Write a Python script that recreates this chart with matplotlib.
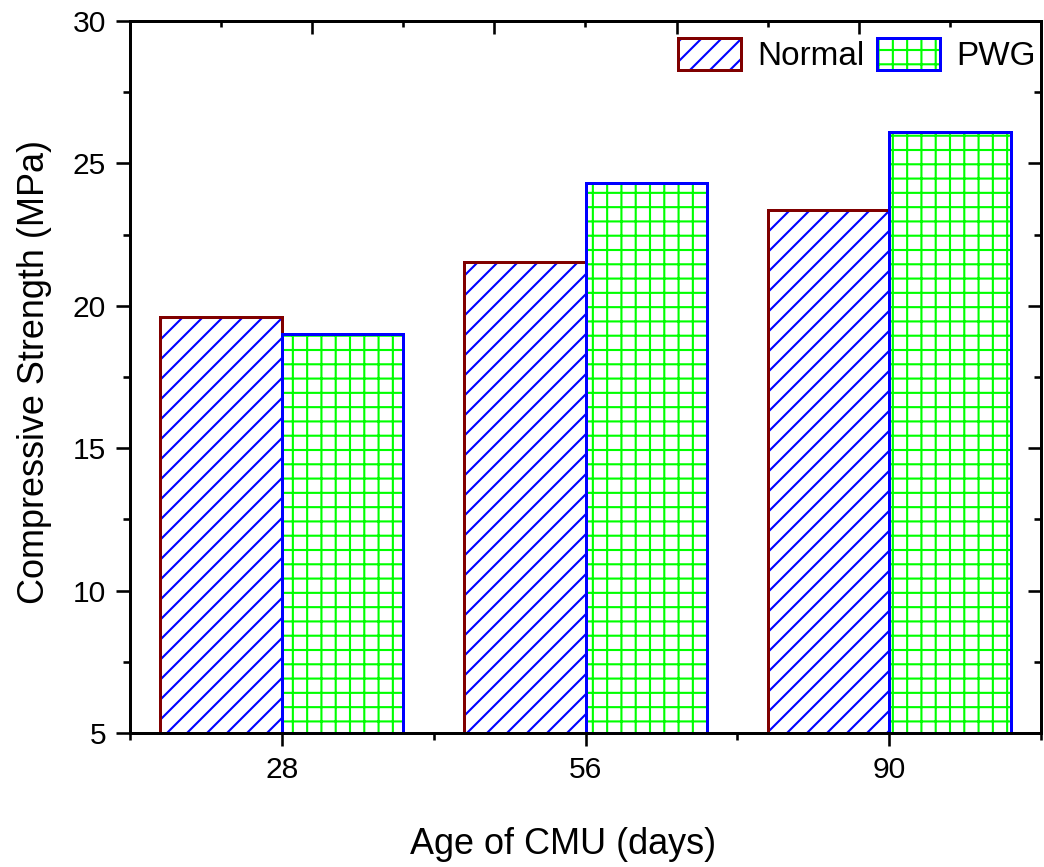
import matplotlib
matplotlib.use("Agg")
import matplotlib.pyplot as plt
import numpy as np
from matplotlib.patches import Patch
from matplotlib.legend_handler import HandlerTuple
from matplotlib.ticker import MultipleLocator, FixedLocator

categories = ["28", "56", "90"]
normal = [19.6, 21.55, 23.35]
pwg = [19.0, 24.3, 26.1]
series_names = ["Normal", "PWG"]

DPI = 600
W, H = 1044, 867


def P(px):
    """pixels -> points at the chosen dpi"""
    return px * 72.0 / DPI


plt.rcParams['font.family'] = ['Liberation Sans', 'DejaVu Sans']
plt.rcParams['hatch.linewidth'] = P(2.1)

fig = plt.figure(figsize=(W / DPI, H / DPI), dpi=DPI)
ax = fig.add_axes([130 / W, 1 - 733 / H, (1041 - 130) / W, (733 - 21) / H])

x = np.arange(len(categories))
bw = 0.4
base = 5
EDGE_LW = P(3.0)
SPINE_LW = P(2.6)
HATCH_N = '/' * 10   # ~20 px spacing
HATCH_P = '+' * 7    # ~14 px grid


def hatched_bars(xpos, vals, hatch, hcolor, ecolor):
    heights = np.array(vals) - base
    ax.bar(xpos, heights, bw, bottom=base, align='edge', facecolor='white',
           edgecolor=hcolor, hatch=hatch, linewidth=0, zorder=2)
    ax.bar(xpos, heights, bw, bottom=base, align='edge', facecolor='none',
           edgecolor=ecolor, linewidth=EDGE_LW, zorder=3)


hatched_bars(x - bw, normal, HATCH_N, '#0000ff', '#800000')
hatched_bars(x, pwg, HATCH_P, '#00ff00', '#0000ff')

ax.set_xlim(-0.5, 2.5)
ax.set_ylim(5, 30)
ax.set_xticks(x)
ax.set_xticklabels(categories)
ax.xaxis.set_minor_locator(FixedLocator([-0.5, 0.5, 1.5, 2.5]))
ax.yaxis.set_major_locator(MultipleLocator(5))
ax.yaxis.set_minor_locator(MultipleLocator(2.5))

for s in ax.spines.values():
    s.set_linewidth(SPINE_LW)

ax.tick_params(axis='x', which='major', direction='out', length=P(12.7), width=SPINE_LW,
               labelsize=P(30), pad=P(10), top=False)
ax.tick_params(axis='x', which='minor', direction='out', length=P(6.7), width=SPINE_LW, top=False)
ax.tick_params(axis='y', which='major', direction='out', length=P(14), width=SPINE_LW,
               labelsize=P(30), pad=P(10))
ax.tick_params(axis='y', which='minor', direction='out', length=P(7.3), width=SPINE_LW)

# right mirrored ticks (inward)
axr = ax.twinx()
axr.set_ylim(5, 30)
axr.yaxis.set_major_locator(MultipleLocator(5))
axr.yaxis.set_minor_locator(MultipleLocator(2.5))
axr.tick_params(axis='y', which='major', direction='in', length=P(13.3), width=SPINE_LW,
                labelright=False)
axr.tick_params(axis='y', which='minor', direction='in', length=P(6.7), width=SPINE_LW)
for s in axr.spines.values():
    s.set_linewidth(SPINE_LW)

# top independent axis ticks (inward)
axt = ax.twiny()
axt.set_xlim(0, 5)
axt.xaxis.set_major_locator(MultipleLocator(1))
axt.xaxis.set_minor_locator(MultipleLocator(0.5))
axt.tick_params(axis='x', which='major', direction='in', length=P(12.7), width=SPINE_LW,
                labeltop=False)
axt.tick_params(axis='x', which='minor', direction='in', length=P(6), width=SPINE_LW)
axt.set_ylim(5, 30)
axt.tick_params(axis='y', left=False, right=False, labelleft=False, labelright=False)
for s in axt.spines.values():
    s.set_linewidth(SPINE_LW)

# legend
h1 = (Patch(facecolor='white', edgecolor='#0000ff', hatch=HATCH_N, linewidth=0),
      Patch(facecolor='none', edgecolor='#800000', linewidth=EDGE_LW))
h2 = (Patch(facecolor='white', edgecolor='#00ff00', hatch=HATCH_P, linewidth=0),
      Patch(facecolor='none', edgecolor='#0000ff', linewidth=EDGE_LW))
leg = axt.legend([h1, h2], series_names, handler_map={tuple: HandlerTuple(ndivide=1, pad=0)},
                 loc='upper right', bbox_to_anchor=(1036 / W, 1 - 38 / H),
                 bbox_transform=fig.transFigure, ncol=2, frameon=False,
                 fontsize=P(33.3), borderpad=0, borderaxespad=0,
                 handlelength=1.9, handleheight=1.1, handletextpad=0.5,
                 columnspacing=0.35)

fig.text(563 / W, 1 - 845 / H, "Age of CMU (days)", ha='center', va='center', fontsize=P(36))
fig.text(35 / W, 1 - 372 / H, "Compressive Strength (MPa)", ha='center', va='center',
         rotation=90, fontsize=P(36))

fig.savefig("out.png", dpi=DPI, facecolor='white')
